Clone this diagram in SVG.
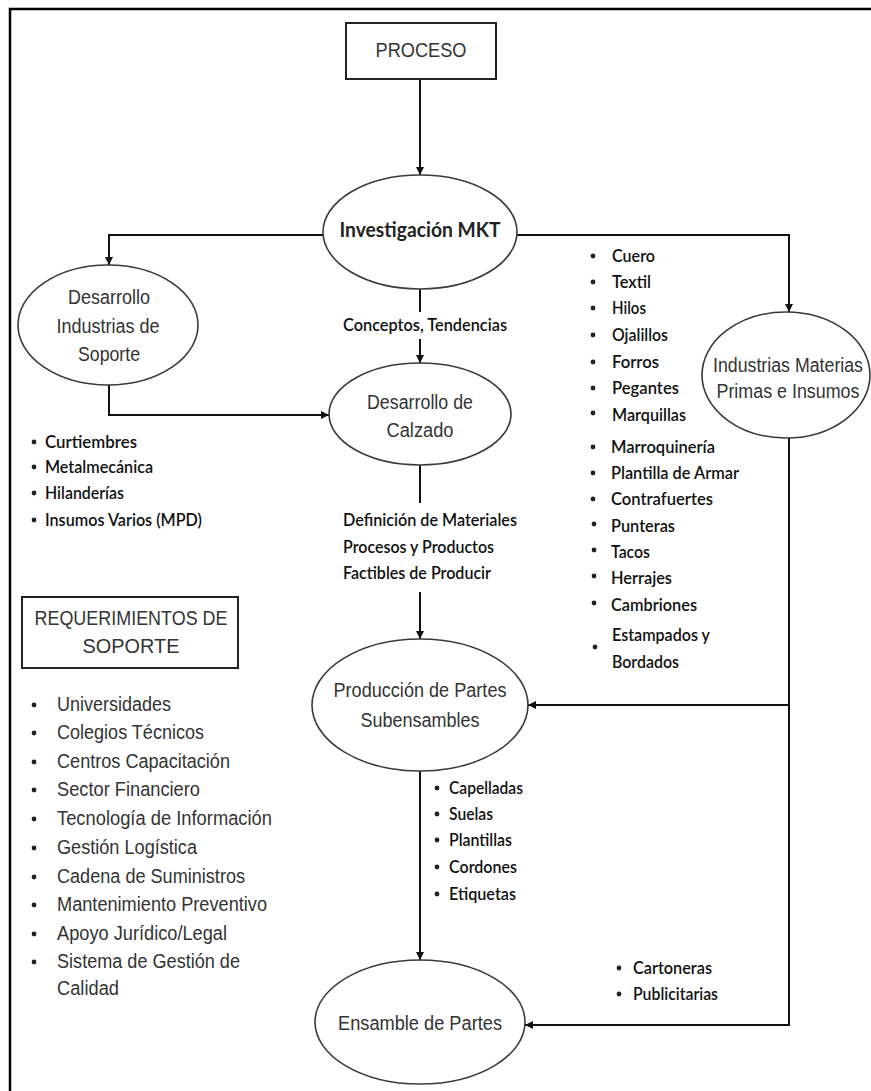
<svg xmlns="http://www.w3.org/2000/svg" width="871" height="1091" viewBox="0 0 871 1091">
<style>
.node{fill:#fff;stroke:#3a3a3a;stroke-width:1.6}
.box{fill:#fff;stroke:#222;stroke-width:2}
.ar{font-family:"Liberation Sans",Arial,sans-serif;font-size:20px;fill:#333}
.cb{font-family:Lato,"Open Sans",sans-serif;font-size:17.5px;font-weight:600;fill:#111}
.cbb{font-family:Lato,"Open Sans",sans-serif;font-size:20px;font-weight:bold;fill:#222}
.conn{fill:none;stroke:#111;stroke-width:2}
.dot{fill:#222}
</style>
<defs>
<marker id="arr" viewBox="0 0 10 10" refX="10" refY="5" markerWidth="4" markerHeight="4" orient="auto" markerUnits="strokeWidth">
<path d="M0,0 L10,5 L0,10 z" fill="#111"/>
</marker>
</defs>
<rect x="10" y="9" width="900" height="1120" fill="#fff" stroke="#000" stroke-width="2.5"/>

<g id="connectors">
<path class="conn" d="M420,79 V175" marker-end="url(#arr)"/>
<path class="conn" d="M323,235 H109 V265" marker-end="url(#arr)"/>
<path class="conn" d="M517,235 H789 V312" marker-end="url(#arr)"/>
<path class="conn" d="M420,289 V312"/>
<path class="conn" d="M420,339 V363" marker-end="url(#arr)"/>
<path class="conn" d="M109,385 V415 H329" marker-end="url(#arr)"/>
<path class="conn" d="M420,465 V503"/>
<path class="conn" d="M420,592 V639" marker-end="url(#arr)"/>
<path class="conn" d="M789,438 V1025 H525" marker-end="url(#arr)"/>
<path class="conn" d="M789,705 H528" marker-end="url(#arr)"/>
<path class="conn" d="M420,771 V960" marker-end="url(#arr)"/>
</g>

<g id="proceso">
<rect class="box" x="346" y="23" width="150" height="56"/>
<text class="ar" x="421" y="57" text-anchor="middle" textLength="91" lengthAdjust="spacingAndGlyphs">PROCESO</text>
</g>

<g id="investigacion">
<ellipse class="node" cx="420" cy="232" rx="97" ry="57"/>
<text class="cbb" x="420" y="237" text-anchor="middle" textLength="161" lengthAdjust="spacingAndGlyphs">Investigación MKT</text>
</g>

<g id="desarrollo-industrias">
<ellipse class="node" cx="108" cy="325" rx="90" ry="60"/>
<text class="ar" x="109" y="304" text-anchor="middle" textLength="82" lengthAdjust="spacingAndGlyphs">Desarrollo</text>
<text class="ar" x="108" y="333" text-anchor="middle" textLength="103" lengthAdjust="spacingAndGlyphs">Industrias de</text>
<text class="ar" x="109" y="361" text-anchor="middle" textLength="62" lengthAdjust="spacingAndGlyphs">Soporte</text>
</g>

<g id="lbl-conceptos">
<text class="cb" x="425" y="331" text-anchor="middle" textLength="164" lengthAdjust="spacingAndGlyphs">Conceptos, Tendencias</text>
</g>

<g id="desarrollo-calzado">
<ellipse class="node" cx="420" cy="414" rx="91" ry="51"/>
<text class="ar" x="420" y="409" text-anchor="middle" textLength="106" lengthAdjust="spacingAndGlyphs">Desarrollo de</text>
<text class="ar" x="420" y="437" text-anchor="middle" textLength="67" lengthAdjust="spacingAndGlyphs">Calzado</text>
</g>

<g id="lbl-definicion">
<text class="cb" x="343" y="526" textLength="174" lengthAdjust="spacingAndGlyphs">Definición de Materiales</text>
<text class="cb" x="343" y="553" textLength="151" lengthAdjust="spacingAndGlyphs">Procesos y Productos</text>
<text class="cb" x="343" y="579" textLength="148" lengthAdjust="spacingAndGlyphs">Factibles de Producir</text>
</g>

<g id="industrias-materias">
<ellipse class="node" cx="786" cy="375" rx="84" ry="63"/>
<text class="ar" x="788" y="372" text-anchor="middle" textLength="150" lengthAdjust="spacingAndGlyphs">Industrias Materias</text>
<text class="ar" x="788" y="398" text-anchor="middle" textLength="143" lengthAdjust="spacingAndGlyphs">Primas e Insumos</text>
</g>

<g id="produccion">
<ellipse class="node" cx="420" cy="705" rx="108" ry="66"/>
<text class="ar" x="420" y="697" text-anchor="middle" textLength="173" lengthAdjust="spacingAndGlyphs">Producción de Partes</text>
<text class="ar" x="420" y="727" text-anchor="middle" textLength="119" lengthAdjust="spacingAndGlyphs">Subensambles</text>
</g>

<g id="ensamble">
<ellipse class="node" cx="420" cy="1022" rx="105" ry="62"/>
<text class="ar" x="420" y="1030" text-anchor="middle" textLength="164" lengthAdjust="spacingAndGlyphs">Ensamble de Partes</text>
</g>

<g id="list-soporte">
<circle class="dot" cx="34" cy="442" r="2.4"/><text class="cb" x="45" y="448" textLength="92" lengthAdjust="spacingAndGlyphs">Curtiembres</text>
<circle class="dot" cx="34" cy="467" r="2.4"/><text class="cb" x="45" y="473" textLength="108" lengthAdjust="spacingAndGlyphs">Metalmecánica</text>
<circle class="dot" cx="34" cy="493" r="2.4"/><text class="cb" x="45" y="499" textLength="79" lengthAdjust="spacingAndGlyphs">Hilanderías</text>
<circle class="dot" cx="34" cy="520" r="2.4"/><text class="cb" x="45" y="526" textLength="157" lengthAdjust="spacingAndGlyphs">Insumos Varios (MPD)</text>
</g>

<g id="list-materiales">
<circle class="dot" cx="593" cy="256" r="2.4"/><text class="cb" x="612" y="262" textLength="43" lengthAdjust="spacingAndGlyphs">Cuero</text>
<circle class="dot" cx="593" cy="282" r="2.4"/><text class="cb" x="612" y="288" textLength="39" lengthAdjust="spacingAndGlyphs">Textil</text>
<circle class="dot" cx="593" cy="308" r="2.4"/><text class="cb" x="612" y="314" textLength="34" lengthAdjust="spacingAndGlyphs">Hilos</text>
<circle class="dot" cx="593" cy="335" r="2.4"/><text class="cb" x="612" y="341" textLength="56" lengthAdjust="spacingAndGlyphs">Ojalillos</text>
<circle class="dot" cx="593" cy="362" r="2.4"/><text class="cb" x="612" y="368" textLength="47" lengthAdjust="spacingAndGlyphs">Forros</text>
<circle class="dot" cx="593" cy="388" r="2.4"/><text class="cb" x="612" y="394" textLength="67" lengthAdjust="spacingAndGlyphs">Pegantes</text>
<circle class="dot" cx="593" cy="413" r="2.4"/><text class="cb" x="612" y="421" textLength="74" lengthAdjust="spacingAndGlyphs">Marquillas</text>
<circle class="dot" cx="593" cy="447" r="2.4"/><text class="cb" x="611" y="453" textLength="104" lengthAdjust="spacingAndGlyphs">Marroquinería</text>
<circle class="dot" cx="593" cy="473" r="2.4"/><text class="cb" x="611" y="479" textLength="128" lengthAdjust="spacingAndGlyphs">Plantilla de Armar</text>
<circle class="dot" cx="593" cy="499" r="2.4"/><text class="cb" x="611" y="505" textLength="102" lengthAdjust="spacingAndGlyphs">Contrafuertes</text>
<circle class="dot" cx="594" cy="524" r="2.4"/><text class="cb" x="611" y="532" textLength="64" lengthAdjust="spacingAndGlyphs">Punteras</text>
<circle class="dot" cx="594" cy="550" r="2.4"/><text class="cb" x="611" y="558" textLength="39" lengthAdjust="spacingAndGlyphs">Tacos</text>
<circle class="dot" cx="594" cy="576" r="2.4"/><text class="cb" x="611" y="584" textLength="61" lengthAdjust="spacingAndGlyphs">Herrajes</text>
<circle class="dot" cx="594" cy="603" r="2.4"/><text class="cb" x="611" y="611" textLength="86" lengthAdjust="spacingAndGlyphs">Cambriones</text>
<circle class="dot" cx="595" cy="647" r="2.4"/><text class="cb" x="612" y="641" textLength="98" lengthAdjust="spacingAndGlyphs">Estampados y</text>
<text class="cb" x="612" y="668" textLength="67" lengthAdjust="spacingAndGlyphs">Bordados</text>
</g>

<g id="requerimientos">
<rect class="box" x="22" y="597" width="216" height="71"/>
<text class="ar" x="131" y="625" text-anchor="middle" textLength="193" lengthAdjust="spacingAndGlyphs">REQUERIMIENTOS DE</text>
<text class="ar" x="131" y="653" text-anchor="middle" textLength="97" lengthAdjust="spacingAndGlyphs">SOPORTE</text>
</g>

<g id="list-requerimientos">
<circle class="dot" cx="34" cy="705" r="2.4"/><text class="ar" x="57" y="711" textLength="114" lengthAdjust="spacingAndGlyphs">Universidades</text>
<circle class="dot" cx="34" cy="733" r="2.4"/><text class="ar" x="57" y="739" textLength="147" lengthAdjust="spacingAndGlyphs">Colegios Técnicos</text>
<circle class="dot" cx="34" cy="762" r="2.4"/><text class="ar" x="57" y="768" textLength="173" lengthAdjust="spacingAndGlyphs">Centros Capacitación</text>
<circle class="dot" cx="34" cy="790" r="2.4"/><text class="ar" x="57" y="796" textLength="143" lengthAdjust="spacingAndGlyphs">Sector Financiero</text>
<circle class="dot" cx="34" cy="819" r="2.4"/><text class="ar" x="57" y="825" textLength="215" lengthAdjust="spacingAndGlyphs">Tecnología de Información</text>
<circle class="dot" cx="34" cy="848" r="2.4"/><text class="ar" x="57" y="854" textLength="140" lengthAdjust="spacingAndGlyphs">Gestión Logística</text>
<circle class="dot" cx="34" cy="877" r="2.4"/><text class="ar" x="57" y="883" textLength="188" lengthAdjust="spacingAndGlyphs">Cadena de Suministros</text>
<circle class="dot" cx="34" cy="905" r="2.4"/><text class="ar" x="57" y="911" textLength="210" lengthAdjust="spacingAndGlyphs">Mantenimiento Preventivo</text>
<circle class="dot" cx="34" cy="934" r="2.4"/><text class="ar" x="57" y="940" textLength="170" lengthAdjust="spacingAndGlyphs">Apoyo Jurídico/Legal</text>
<circle class="dot" cx="34" cy="962" r="2.4"/><text class="ar" x="57" y="968" textLength="183" lengthAdjust="spacingAndGlyphs">Sistema de Gestión de</text>
<text class="ar" x="57" y="995" textLength="62" lengthAdjust="spacingAndGlyphs">Calidad</text>
</g>

<g id="list-partes">
<circle class="dot" cx="437" cy="788" r="2.4"/><text class="cb" x="449" y="794" textLength="74" lengthAdjust="spacingAndGlyphs">Capelladas</text>
<circle class="dot" cx="437" cy="814" r="2.4"/><text class="cb" x="449" y="820" textLength="44" lengthAdjust="spacingAndGlyphs">Suelas</text>
<circle class="dot" cx="437" cy="840" r="2.4"/><text class="cb" x="449" y="846" textLength="63" lengthAdjust="spacingAndGlyphs">Plantillas</text>
<circle class="dot" cx="437" cy="867" r="2.4"/><text class="cb" x="449" y="873" textLength="68" lengthAdjust="spacingAndGlyphs">Cordones</text>
<circle class="dot" cx="437" cy="894" r="2.4"/><text class="cb" x="449" y="900" textLength="67" lengthAdjust="spacingAndGlyphs">Etiquetas</text>
</g>

<g id="list-empaque">
<circle class="dot" cx="619" cy="968" r="2.4"/><text class="cb" x="633" y="974" textLength="79" lengthAdjust="spacingAndGlyphs">Cartoneras</text>
<circle class="dot" cx="619" cy="994" r="2.4"/><text class="cb" x="633" y="1000" textLength="85" lengthAdjust="spacingAndGlyphs">Publicitarias</text>
</g>
</svg>
